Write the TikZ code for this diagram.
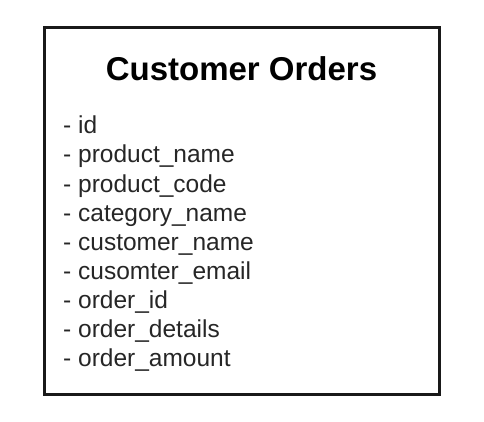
\documentclass[tikz,border=0pt]{standalone}
\usepackage{fontspec}
\setmainfont{Liberation Sans}
\begin{document}
\begin{tikzpicture}[x=1pt,y=-1pt,
  boxstyle/.style={draw=black!90, line width=3pt},
  titlestyle/.style={anchor=base, inner sep=0pt, font=\fontsize{33}{36}\selectfont\bfseries},
  itemstyle/.style={anchor=base west, inner sep=0pt, text=black!85, font=\fontsize{24.5}{28}\selectfont}]
\useasboundingbox (0,0) rectangle (484,422);
\draw[boxstyle] (44,28) rectangle (439,394);
\node[titlestyle] (title) at (241.5,80.5) {Customer Orders};
\foreach \t [count=\i from 0] in {id,product\_name,product\_code,category\_name,customer\_name,cusomter\_email,order\_id,order\_details,order\_amount}{
  \node[itemstyle] (item\i) at (63,{134+29*\i}) {- \t};
}
\end{tikzpicture}
\end{document}
